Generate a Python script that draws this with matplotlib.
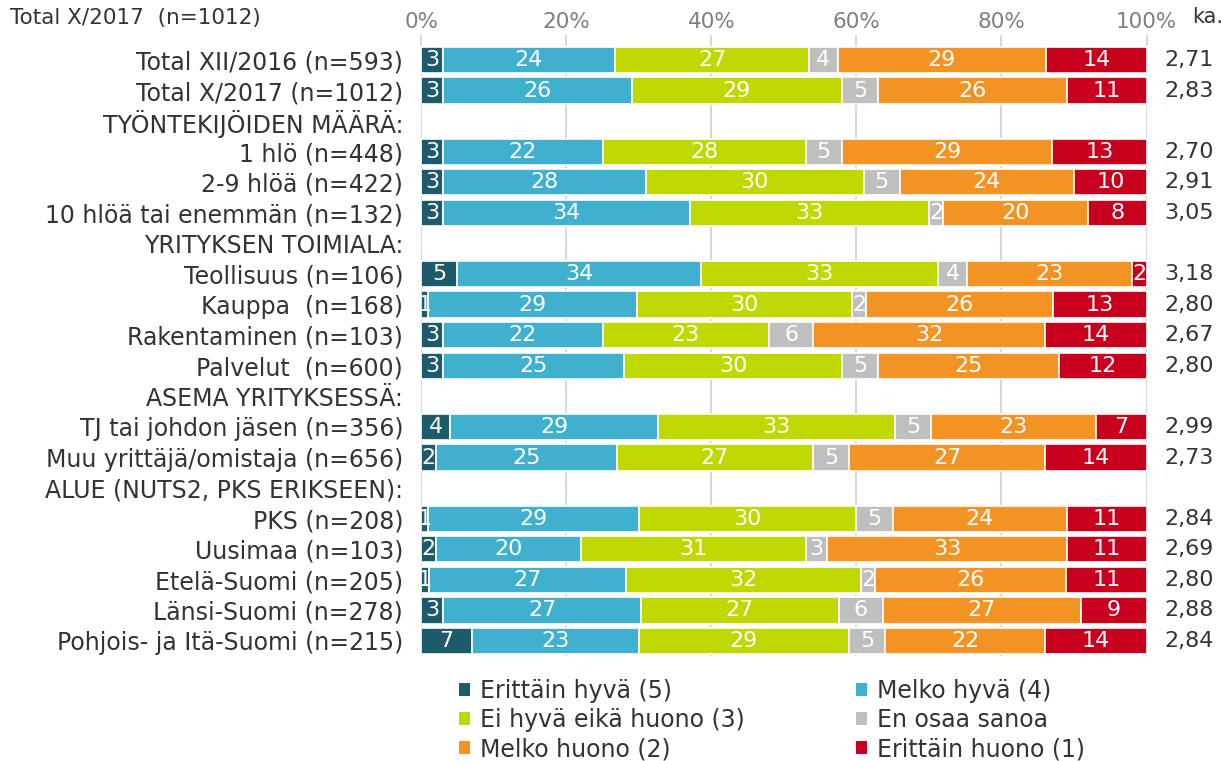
import numpy as np
import matplotlib.pyplot as plt
from matplotlib.patches import Patch

# row labels, headers included
row_labels = [
    "Total XII/2016 (n=593)",
    "Total X/2017 (n=1012)",
    "TYÖNTEKIJÖIDEN MÄÄRÄ:",
    "1 hlö (n=448)",
    "2-9 hlöä (n=422)",
    "10 hlöä tai enemmän (n=132)",
    "YRITYKSEN TOIMIALA:",
    "Teollisuus (n=106)",
    "Kauppa  (n=168)",
    "Rakentaminen (n=103)",
    "Palvelut  (n=600)",
    "ASEMA YRITYKSESSÄ:",
    "TJ tai johdon jäsen (n=356)",
    "Muu yrittäjä/omistaja (n=656)",
    "ALUE (NUTS2, PKS ERIKSEEN):",
    "PKS (n=208)",
    "Uusimaa (n=103)",
    "Etelä-Suomi (n=205)",
    "Länsi-Suomi (n=278)",
    "Pohjois- ja Itä-Suomi (n=215)",
]
header_rows = [2, 6, 11, 14]

categories = ["Erittäin hyvä (5)", "Melko hyvä (4)", "Ei hyvä eikä huono (3)",
              "En osaa sanoa", "Melko huono (2)", "Erittäin huono (1)"]
colors = ["#1d5a6a", "#3fb1ce", "#bfd900", "#bfbfbf", "#f39323", "#c8001e"]

# values for the non-header rows, top to bottom
erittain_hyva = [3, 3, 3, 3, 3, 5, 1, 3, 3, 4, 2, 1, 2, 1, 3, 7]
melko_hyva = [24, 26, 22, 28, 34, 34, 29, 22, 25, 29, 25, 29, 20, 27, 27, 23]
ei_hyva_ei_huono = [27, 29, 28, 30, 33, 33, 30, 23, 30, 33, 27, 30, 31, 32, 27, 29]
en_osaa = [4, 5, 5, 5, 2, 4, 2, 6, 5, 5, 5, 5, 3, 2, 6, 5]
melko_huono = [29, 26, 29, 24, 20, 23, 26, 32, 25, 23, 27, 24, 33, 26, 27, 22]
erittain_huono = [14, 11, 13, 10, 8, 2, 13, 14, 12, 7, 14, 11, 11, 11, 9, 14]
keskiarvo = ["2,71", "2,83", "2,70", "2,91", "3,05", "3,18", "2,80", "2,67",
             "2,80", "2,99", "2,73", "2,84", "2,69", "2,80", "2,88", "2,84"]

series = np.array([erittain_hyva, melko_hyva, ei_hyva_ei_huono,
                   en_osaa, melko_huono, erittain_huono], dtype=float)
shares = series / series.sum(axis=0) * 100

ypos = [i for i in range(len(row_labels)) if i not in header_rows]

fig = plt.figure(figsize=(12.21, 7.61), dpi=100)
ax = fig.add_axes([0.345, 0.1376, 0.594, 0.8037])

left = np.zeros(len(ypos))
for k in range(len(categories)):
    ax.barh(ypos, shares[k], left=left, height=0.86, color=colors[k],
            edgecolor="white", linewidth=1.2, zorder=3)
    for j, y in enumerate(ypos):
        ax.text(left[j] + shares[k][j] / 2, y, str(int(series[k][j])),
                ha="center", va="center", color="white", fontsize=16, zorder=4)
    left += shares[k]

ax.set_xlim(0, 100)
ax.set_ylim(len(row_labels) - 0.5, -0.5)
ax.set_xticks(np.arange(0, 101, 20))
ax.set_xticklabels([f"{v}%" for v in range(0, 101, 20)])
ax.xaxis.tick_top()
ax.tick_params(axis="x", colors="#d9d9d9", labelcolor="#7f7f7f", length=7,
               width=1.5, labelsize=15.5, pad=2)
ax.grid(axis="x", color="#d9d9d9", linewidth=1.5, zorder=0)
ax.set_yticks(range(len(row_labels)))
ax.set_yticklabels(row_labels, fontsize=17, color="#333333")
ax.tick_params(axis="y", length=0, pad=13)
for s in ax.spines.values():
    s.set_visible(False)

for j, y in enumerate(ypos):
    ax.text(102.4, y, keskiarvo[j], ha="left", va="center", fontsize=16,
            color="#333333", clip_on=False)
fig.text(0.976, 0.978, "ka.", ha="left", va="center", fontsize=15,
         color="#333333")

fig.text(0.008, 0.976, "Total X/2017  (n=1012)", ha="left", va="center",
         fontsize=15.5, color="#333333")

# legend filled row by row like the original
order = [0, 2, 4, 1, 3, 5]
handles = [Patch(facecolor=colors[i], edgecolor="none") for i in order]
labels = [categories[i] for i in order]
fig.legend(handles, labels, loc="upper left", bbox_to_anchor=(0.376, 0.108),
           ncol=2, frameon=False, fontsize=17, handlelength=0.45,
           handleheight=0.45, handletextpad=0.45, columnspacing=4.7,
           labelspacing=0.22, borderpad=0, borderaxespad=0,
           labelcolor="#333333")

fig.savefig("out.png", dpi=100)
